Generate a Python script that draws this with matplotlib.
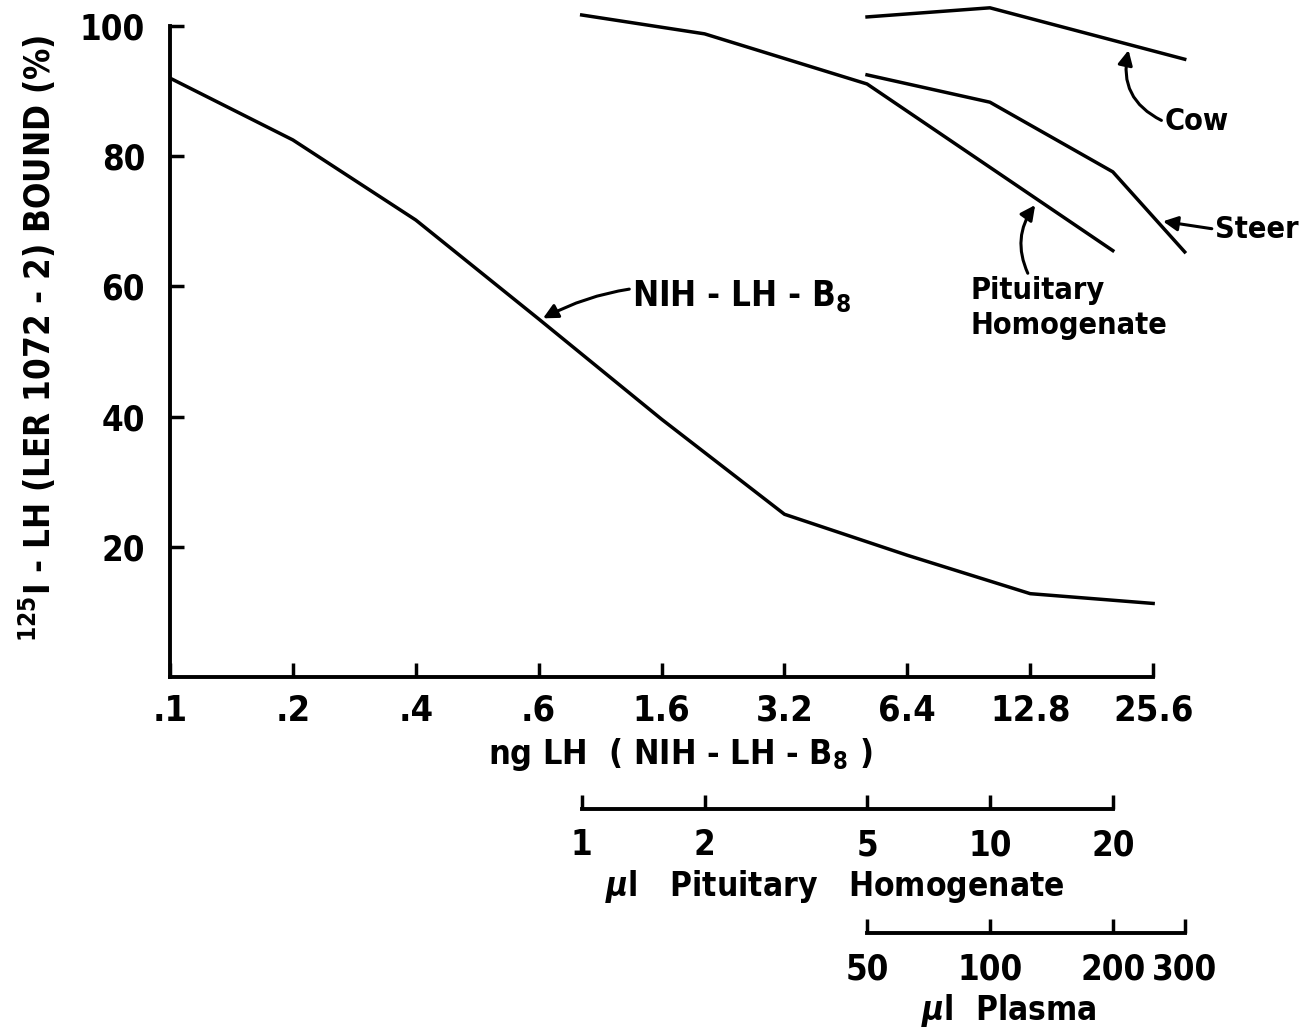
from matplotlib import pyplot as plt
from matplotlib.ticker import NullLocator
import numpy as np

plt.rcParams["font.family"] = ["DejaVu Sans"]
plt.rcParams["font.stretch"] = "condensed"
plt.rcParams["font.weight"] = "bold"
plt.rcParams["axes.labelweight"] = "bold"

# NIH-LH-B8 standard curve (ng LH, one tick per doubling)
ng_labels = [".1", ".2", ".4", ".6", "1.6", "3.2", "6.4", "12.8", "25.6"]
nih_bound = [92.0, 82.5, 70.2, 55.0, 39.6, 25.0, 18.7, 12.8, 11.3]

# pituitary homogenate (ul)
pit_ul = [1, 2, 5, 20]
pit_bound = [101.7, 98.8, 91.1, 65.5]

# plasma (ul)
steer_ul = [50, 100, 200, 300]
steer_bound = [92.5, 88.3, 77.6, 65.3]
cow_ul = [50, 100, 300]
cow_bound = [101.4, 102.8, 94.9]

pit_ticks = [1, 2, 5, 10, 20]
plasma_ticks = [50, 100, 200, 300]

# 1 ul of homogenate sits at this position on the ng axis, 10 ul plasma = 1 ul homogenate
PIT_OFFSET = 3.35
X_MAX = 8.3
LW = 2.5

W, H = 1306, 1034
fig = plt.figure(figsize=(W / 100, H / 100), dpi=100)
left, width = 170 / W, 1020 / W
ax = fig.add_axes([left, 357 / H, width, 677 / H])

x = np.arange(len(ng_labels))
ax.plot(x, nih_bound, color="black", lw=LW)

ax.set_xlim(0, X_MAX)
ax.set_ylim(0, 104)
for side in ["top", "right"]:
    ax.spines[side].set_visible(False)
for side in ["left", "bottom"]:
    ax.spines[side].set_linewidth(2.8)
ax.spines["bottom"].set_bounds(0, len(ng_labels) - 1)
ax.spines["left"].set_bounds(0, 100)
ax.set_xticks(x)
ax.set_xticklabels(ng_labels)
ax.set_yticks([20, 40, 60, 80, 100])
ax.tick_params(direction="in", length=10, width=2.5, labelsize=26, pad=12)
ax.tick_params(axis="y", labelsize=25, pad=18)
ax.set_xlabel("ng LH  ( NIH - LH - B$_8$ )", fontsize=24.5, labelpad=6)
ax.set_ylabel("$^{125}$I - LH (LER 1072 - 2) BOUND (%)", fontsize=25, labelpad=16)

# twin axes on log2 scales aligned with the ng axis
lo, hi = 2.0 ** (-PIT_OFFSET), 2.0 ** (X_MAX - PIT_OFFSET)
axp = ax.twiny()
axp.set_xscale("log", base=2)
axp.set_xlim(lo, hi)
axp.set_ylim(ax.get_ylim())
axp.set_axis_off()
axp.plot(pit_ul, pit_bound, color="black", lw=LW)

axs = ax.twiny()
axs.set_xscale("log", base=2)
axs.set_xlim(10 * lo, 10 * hi)
axs.set_ylim(ax.get_ylim())
axs.set_axis_off()
axs.plot(steer_ul, steer_bound, color="black", lw=LW)
axs.plot(cow_ul, cow_bound, color="black", lw=LW)


def scale_axis(bottom, ticks, xlim, label, label_x):
    a = fig.add_axes([left, bottom, width, 0.001])
    a.patch.set_visible(False)
    for side in ["top", "right", "left"]:
        a.spines[side].set_visible(False)
    a.spines["bottom"].set_linewidth(2.8)
    a.set_xscale("log", base=2)
    a.set_xlim(*xlim)
    a.spines["bottom"].set_bounds(ticks[0], ticks[-1])
    a.set_yticks([])
    a.set_xticks(ticks)
    a.set_xticklabels([str(t) for t in ticks])
    a.xaxis.set_minor_locator(NullLocator())
    a.tick_params(axis="x", direction="in", length=10, width=2.5, labelsize=25, pad=14)
    a.set_xlabel(label, fontsize=24, x=label_x, labelpad=4)
    return a


scale_axis(225 / H, pit_ticks, (lo, hi), r"$\mu$l   Pituitary   Homogenate", 0.652)
scale_axis(101 / H, plasma_ticks, (10 * lo, 10 * hi), r"$\mu$l  Plasma", 0.822)

arrow = dict(arrowstyle="-|>", color="black", lw=2.2, mutation_scale=22, shrinkA=0, shrinkB=0)
ax.annotate("NIH - LH - B$_8$", xy=(3.035, 55.1), xytext=(3.76, 58.4), fontsize=25,
            ha="left", va="center",
            arrowprops=dict(arrow, connectionstyle="arc3,rad=0.2"))
ax.annotate("Pituitary\nHomogenate", xy=(7.04, 72.5), xytext=(6.51, 56.7), fontsize=22,
            ha="left", va="center", linespacing=1.25,
            arrowprops=dict(arrow, connectionstyle="arc3,rad=-0.3", relpos=(0.3, 1.0)))
ax.annotate("Cow", xy=(7.80, 96.3), xytext=(8.09, 85.3), fontsize=22,
            ha="left", va="center", annotation_clip=False,
            arrowprops=dict(arrow, connectionstyle="arc3,rad=-0.4", relpos=(0.0, 0.5)))
ax.annotate("Steer", xy=(8.08, 70.0), xytext=(8.5, 68.8), fontsize=22,
            ha="left", va="center", annotation_clip=False,
            arrowprops=dict(arrow, connectionstyle="arc3,rad=0.0", relpos=(0.0, 0.5)))

fig.savefig("out.png", dpi=100)
